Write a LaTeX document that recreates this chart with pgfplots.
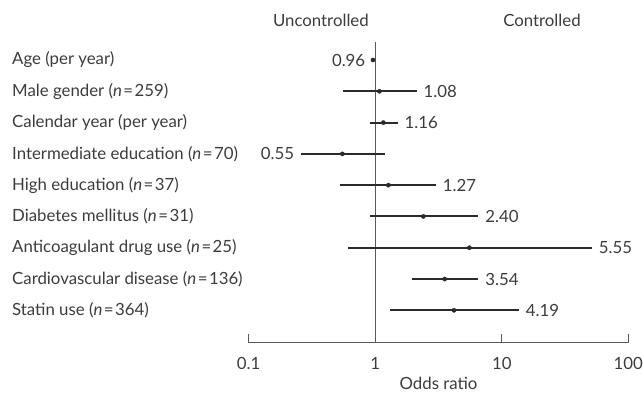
\documentclass[border=0pt]{standalone}
\usepackage{fontspec}
\setmainfont{Lato}
\usepackage{pgfplots}
\usepackage{pgfplotstable}
\pgfplotsset{compat=1.18}
\definecolor{txt}{HTML}{3C3C3C}
\definecolor{ln}{HTML}{5A5A5A}
\definecolor{ci}{HTML}{2A2A2A}

\pgfplotstableread{
row or lo hi
1 0.96 0.95 0.97
2 1.08 0.56 2.12
3 1.16 0.91 1.50
4 0.55 0.26 1.19
5 1.27 0.53 3.01
6 2.40 0.91 6.52
7 5.55 0.61 51.4
8 3.54 1.95 6.52
9 4.19 1.30 13.6
}\data

\pgfplotstableread{
row hi lab
2 2.12 1.08
3 1.50 1.16
5 3.01 1.27
6 6.52 2.40
7 51.4 5.55
8 6.52 3.54
9 13.6 4.19
}\rightlab

\pgfplotstableread{
row lo lab
1 0.95 0.96
4 0.26 0.55
}\leftlab

\begin{document}
\begin{tikzpicture}[font=\fontsize{16.8bp}{19bp}\selectfont]
\begin{axis}[
 name=ax,
 scale only axis, width=379.6bp, height=301bp,
 xmode=log, xmin=0.1, xmax=100,
 ymin=0.415, ymax=10.035, y dir=reverse,
 axis x line*=bottom, axis y line*=left,
 y axis line style={draw=none},
 x axis line style={ln, line width=1.2bp, -},
 xtick={0.1,1,10,100}, xticklabels={0.1,1,10,100},
 xminorticks=false,
 tick align=inside, major tick length=8.7bp,
 xtick style={ln, line width=1.2bp},
 ytick={1,...,9}, ytick style={draw=none},
 yticklabels={Age (per year), Male gender (\textit{n}\hspace{1.5bp}=\hspace{1.5bp}259), Calendar year (per year), Intermediate education (\textit{n}\hspace{1.5bp}=\hspace{1.5bp}70), High education (\textit{n}\hspace{1.5bp}=\hspace{1.5bp}37), Diabetes mellitus (\textit{n}\hspace{1.5bp}=\hspace{1.5bp}31), Anticoagulant drug use (\textit{n}\hspace{1.5bp}=\hspace{1.5bp}25), Cardiovascular disease (\textit{n}\hspace{1.5bp}=\hspace{1.5bp}136), Statin use (\textit{n}\hspace{1.5bp}=\hspace{1.5bp}364)},
 yticklabel style={anchor=west, inner sep=0pt, xshift=-236.7bp, text=txt},
 xticklabel style={text=txt, yshift=-11bp},
 xlabel={Odds ratio},
 xlabel style={text=txt, yshift=-1bp},
 clip=false,
]
\addplot[ln, line width=1.3bp] coordinates {(1,0.415) (1,10.035)};
\addplot[ci, line width=1.9bp] coordinates {(0.56,2) (2.12,2)};
\addplot[ci, line width=1.9bp] coordinates {(0.91,3) (1.50,3)};
\addplot[ci, line width=1.9bp] coordinates {(0.26,4) (1.19,4)};
\addplot[ci, line width=1.9bp] coordinates {(0.53,5) (3.01,5)};
\addplot[ci, line width=1.9bp] coordinates {(0.91,6) (6.52,6)};
\addplot[ci, line width=1.9bp] coordinates {(0.61,7) (51.4,7)};
\addplot[ci, line width=1.9bp] coordinates {(1.95,8) (6.52,8)};
\addplot[ci, line width=1.9bp] coordinates {(1.30,9) (13.6,9)};
\addplot[only marks, mark=*, mark size=2.1bp, ci] table[x=or, y=row]{\data};
\addplot[draw=none, mark=none, nodes near coords, point meta=explicit symbolic,
  nodes near coords style={anchor=west, inner sep=0pt, xshift=7bp, text=txt}]
  table[x=hi, y=row, meta=lab]{\rightlab};
\addplot[draw=none, mark=none, nodes near coords, point meta=explicit symbolic,
  nodes near coords style={anchor=east, inner sep=0pt, xshift=-7bp, text=txt}]
  table[x=lo, y=row, meta=lab]{\leftlab};
\node[anchor=base, text=txt] at ([yshift=15bp]axis cs:0.372,0.415) {Uncontrolled};
\node[anchor=base, text=txt] at ([yshift=15bp]axis cs:20.8,0.415) {Controlled};
\end{axis}
\pgfresetboundingbox
\path ([xshift=-248.7bp, yshift=-56.3bp]ax.south west) rectangle ([xshift=14.7bp, yshift=41.7bp]ax.north east);
\end{tikzpicture}
\end{document}
